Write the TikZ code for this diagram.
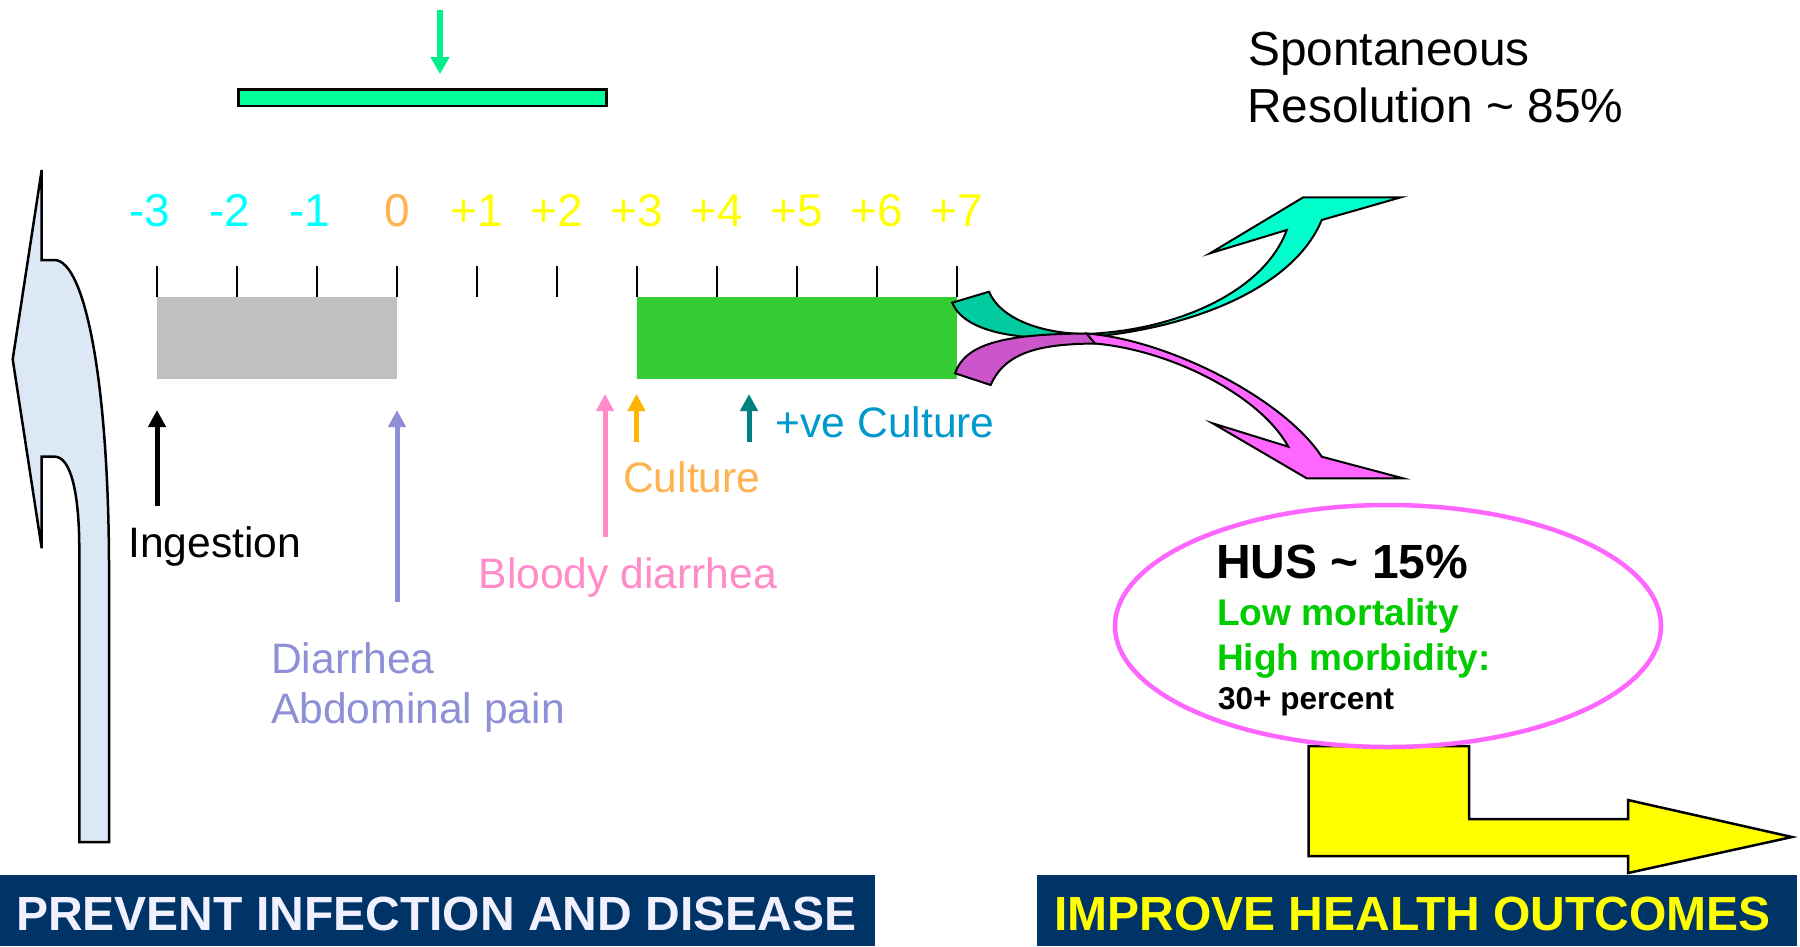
\documentclass[tikz,border=0pt]{standalone}
\usepackage{fontspec}
\setmainfont{Liberation Sans}
\usetikzlibrary{arrows.meta}
\definecolor{cyanN}{RGB}{0,255,255}
\definecolor{yellowN}{RGB}{255,255,0}
\definecolor{orangeN}{RGB}{255,178,80}
\definecolor{goldA}{RGB}{255,180,0}
\definecolor{peri}{RGB}{143,143,216}
\definecolor{pinkA}{RGB}{255,140,200}
\definecolor{tealA}{RGB}{0,128,128}
\definecolor{cultblue}{RGB}{0,153,204}
\definecolor{springA}{RGB}{0,240,140}
\definecolor{springB}{RGB}{0,255,153}
\definecolor{greyBox}{RGB}{192,192,192}
\definecolor{greenBox}{RGB}{51,204,51}
\definecolor{tealDark}{RGB}{0,204,160}
\definecolor{tealBright}{RGB}{0,255,204}
\definecolor{magDark}{RGB}{204,85,204}
\definecolor{magBright}{RGB}{255,102,255}
\definecolor{hgreen}{RGB}{0,204,0}
\definecolor{bannerblue}{RGB}{0,51,102}
\definecolor{lavwhite}{RGB}{240,240,255}
\definecolor{iceblue}{RGB}{220,232,245}
\newcommand\myfs[1]{\fontsize{#1}{#1}\selectfont}
\begin{document}
\begin{tikzpicture}[x=1pt,y=-1pt,
  lbl/.style={anchor=base west,inner sep=0pt,font=\myfs{42.6}},
  numlbl/.style={anchor=base,inner sep=0pt,font=\myfs{46}},
  evarrow/.style={line width=5pt,-{Triangle[length=17pt,width=17pt]}},
  tickmark/.style={line width=2.5pt,black},
  outline/.style={draw=black,line width=2pt,line join=miter},
  banner/.style={fill=bannerblue,draw=none},
  bannertext/.style={anchor=base west,inner sep=0pt,font=\myfs{48}\bfseries}]
\path[use as bounding box] (0,0) rectangle (1800,946);
\fill[white] (0,0) rectangle (1800,946);

% left big arrow
\filldraw[fill=iceblue,draw=black,line width=2.5pt,line join=miter]
  (41.7,170) -- (41.7,260) -- (55,260) .. controls (85,262) and (108,380) .. (109,560)
  -- (109,842) -- (79.3,842) -- (79.3,550) .. controls (79.3,490) and (70,457) .. (55,456.7)
  -- (41.7,456.7) -- (41.7,548.3) -- (12.7,359.3) -- cycle;

% top green arrow and bar
\coordinate (topA) at (440,10);
\coordinate (topB) at (440,74);
\draw[line width=6pt,springA,-{Triangle[length=17pt,width=18pt]}] (topA) -- (topB);
\filldraw[fill=springB,draw=black,line width=2.5pt] (238.5,89.5) rectangle (606.5,106);

% numbers
\foreach \k/\t/\c/\dx in {0/-3/cyanN/-7,1/-2/cyanN/-7,2/-1/cyanN/-7,3/0/orangeN/0,
  4/+1/yellowN/0,5/+2/yellowN/0,6/+3/yellowN/0,7/+4/yellowN/0,8/+5/yellowN/0,9/+6/yellowN/0,10/+7/yellowN/0}
  \node[numlbl,text=\c] (n\k) at (157+80*\k+\dx,226) {\t};

% ticks
\foreach \k in {0,...,10}
  \draw[tickmark] (157+80*\k,266) -- (157+80*\k,297);

% boxes
\fill[greyBox] (157,296.7) rectangle (397,379.3);
\fill[greenBox] (637,296.7) rectangle (957,379.3);

% split arrows
\filldraw[fill=tealDark,outline]
  (952.3,302.7) -- (989,291.7) .. controls (1000,318) and (1040,334) .. (1088,334)
  -- (1090,336) .. controls (1030,342) and (965,335) .. cycle;
\filldraw[fill=tealBright,outline]
  (1086.7,334) .. controls (1180,330) and (1265,290) .. (1286.7,230)
  -- (1210,253.3) -- (1303.3,197.3) -- (1401,197.3) -- (1321.7,220)
  .. controls (1295,285) and (1200,325) .. (1100,336) -- cycle;
\filldraw[fill=magDark,outline]
  (955,373.3) .. controls (965,345) and (1000,334) .. (1086.7,333.5)
  -- (1095,343.5) .. controls (1040,344) and (1005,352) .. (990.7,385) -- cycle;
\filldraw[fill=magBright,outline]
  (1086.7,333.5) .. controls (1170,340) and (1285,400) .. (1321.7,456.7)
  -- (1403,478.3) -- (1306.7,478.3) -- (1212.7,423.3) -- (1288.3,446.7)
  .. controls (1260,395) and (1170,350) .. (1095,343.5) -- cycle;

% event arrows
\coordinate (ingB) at (157,506);   \coordinate (ingT) at (157,410);
\coordinate (diaB) at (397,602);   \coordinate (diaT) at (397,410);
\coordinate (bldB) at (605,537);   \coordinate (bldT) at (605,394);
\coordinate (culB) at (636.5,442); \coordinate (culT) at (636.5,394);
\coordinate (pcuB) at (749,442);   \coordinate (pcuT) at (749,394);
\draw[evarrow,black] (ingB) -- (ingT);
\draw[evarrow,peri] (diaB) -- (diaT);
\draw[evarrow,pinkA] (bldB) -- (bldT);
\draw[evarrow,goldA] (culB) -- (culT);
\draw[evarrow,tealA] (pcuB) -- (pcuT);

% event labels
\node[lbl,text=black] (ing) at (128,557.3) {Ingestion};
\node[lbl,text=peri] (dia) at (271,673.3) {Diarrhea};
\node[lbl,text=peri] (abd) at (271,723.3) {Abdominal pain};
\node[lbl,text=pinkA] (bld) at (478.5,588.3) {Bloody diarrhea};
\node[lbl,text=orangeN] (cul) at (623,492.3) {Culture};
\node[lbl,text=cultblue] (pcu) at (775.5,437.3) {+ve Culture};

% spontaneous resolution
\node[anchor=base west,inner sep=0pt,font=\myfs{47.8}] (spon) at (1248,65) {Spontaneous};
\node[anchor=base west,inner sep=0pt,font=\myfs{47.8}] (reso) at (1247,122.7) {Resolution \textasciitilde{} 85\%};

% yellow bent arrow
\filldraw[fill=yellowN,draw=black,line width=2.5pt,line join=miter]
  (1308.7,746) -- (1469,746) -- (1469,819) -- (1628,819) -- (1628,800) -- (1792,837)
  -- (1628,873) -- (1628,856) -- (1308.7,856) -- cycle;

% ellipse
\filldraw[fill=white,draw=magBright,line width=4.5pt] (1388,626) ellipse [x radius=273, y radius=121];
\node[anchor=base west,inner sep=0pt,font=\myfs{48}\bfseries] (hus) at (1216,578) {HUS \textasciitilde{} 15\%};
\node[anchor=base west,inner sep=0pt,font=\myfs{37.2}\bfseries,text=hgreen] (low) at (1217,625) {Low mortality};
\node[anchor=base west,inner sep=0pt,font=\myfs{37}\bfseries,text=hgreen] (high) at (1217,670) {High morbidity:};
\node[anchor=base west,inner sep=0pt,font=\myfs{31.5}\bfseries] (pct) at (1218,709) {30+ percent};

% banners
\fill[banner] (0,875) rectangle (875,946);
\fill[banner] (1037,875) rectangle (1797,946);
\node[bannertext,text=lavwhite] (prev) at (16,930) {PREVENT INFECTION AND DISEASE};
\node[bannertext,text=yellowN] (impr) at (1054,930) {IMPROVE HEALTH OUTCOMES};
\end{tikzpicture}
\end{document}
